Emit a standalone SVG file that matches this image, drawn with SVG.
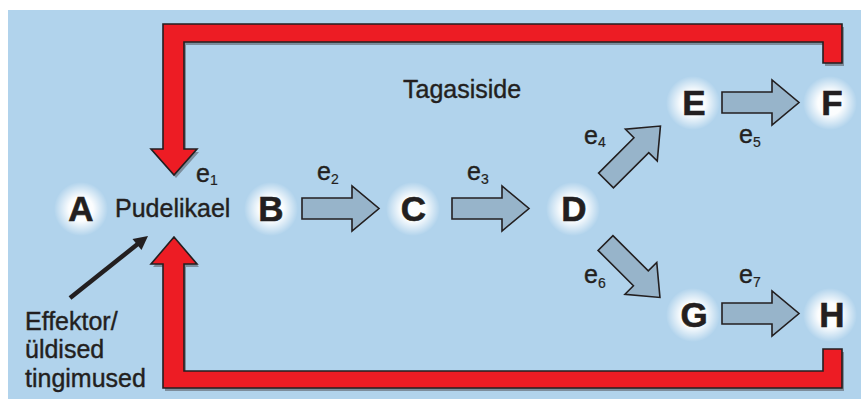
<svg xmlns="http://www.w3.org/2000/svg" width="861" height="399" viewBox="0 0 861 399">
  <defs>
    <radialGradient id="glow">
      <stop offset="0" stop-color="#ffffff" stop-opacity="1"/>
      <stop offset="0.45" stop-color="#ffffff" stop-opacity="0.95"/>
      <stop offset="1" stop-color="#ffffff" stop-opacity="0"/>
    </radialGradient>
    <!-- block arrow pointing right, tail at origin -->
    <path id="blk" d="M0,-10.5 H50 V-22.5 L77,0 L50,22.5 V10.5 H0 Z"/>
  </defs>
  <style>
    .bg { fill: #b1d3ec; }
    .lbl { font-family: "Liberation Sans", Arial, sans-serif; font-weight: bold; font-size: 35px; fill: #231f20; stroke: #231f20; stroke-width: 0.6; text-anchor: middle; }
    .txt { font-family: "Liberation Sans", Arial, sans-serif; font-size: 25px; fill: #231f20; stroke: #231f20; stroke-width: 0.4; }
    .e { font-family: "Liberation Sans", Arial, sans-serif; font-size: 25px; fill: #231f20; stroke: #231f20; stroke-width: 0.4; }
    .sub { font-size: 14px; stroke-width: 0.2; }
    .gray use { fill: #97b4ca; stroke: #231f20; stroke-width: 1.6; stroke-linejoin: miter; }
    .red { fill: #ed1c24; stroke: #231f20; stroke-width: 1.6; }
    .shadow { fill: #7d8d9c; }
  </style>

  <rect class="bg" x="8" y="10" width="853" height="389"/>

  <!-- connectors -->
  <g id="connectors">
    <!-- feedback loops -->
    <g id="feedback-top">
      <path class="shadow" transform="translate(2,3)" d="M842,24 V63 H823 V42 H184 V149 H197 L174,175 L151,149 H163 V24 Z"/>
      <path class="red" d="M842,24 V63 H823 V42 H184 V149 H197 L174,175 L151,149 H163 V24 Z"/>
    </g>
    <g id="feedback-bottom">
      <path class="shadow" transform="translate(2,3)" d="M174,237 L197,264 H184 V371 H823 V349 H842 V388 H163 V264 H151 Z"/>
      <path class="red" d="M174,237 L197,264 H184 V371 H823 V349 H842 V388 H163 V264 H151 Z"/>
    </g>
    <!-- effector arrow -->
    <g id="effector-arrow">
      <line x1="70" y1="298" x2="139" y2="243" stroke="#231f20" stroke-width="4.5"/>
      <polygon points="148,236 141.5,250 132.5,239" fill="#231f20"/>
    </g>
    <!-- reaction steps -->
    <g class="gray">
      <use href="#blk" transform="translate(302,208.5)"/>
      <use href="#blk" transform="translate(452,208.5)"/>
      <use href="#blk" transform="translate(606,180.5) rotate(-45)"/>
      <use href="#blk" transform="translate(605.5,243) rotate(45)"/>
      <use href="#blk" transform="translate(722,102.5)"/>
      <use href="#blk" transform="translate(722,313.5)"/>
    </g>
  </g>

  <!-- step labels -->
  <g id="edge-labels">
    <text class="e" x="196" y="182">e<tspan class="sub" dy="3">1</tspan></text>
    <text class="e" x="317" y="180">e<tspan class="sub" dy="4">2</tspan></text>
    <text class="e" x="467" y="180">e<tspan class="sub" dy="4">3</tspan></text>
    <text class="e" x="584" y="144">e<tspan class="sub" dy="3">4</tspan></text>
    <text class="e" x="739" y="143">e<tspan class="sub" dy="4">5</tspan></text>
    <text class="e" x="584" y="283">e<tspan class="sub" dy="5">6</tspan></text>
    <text class="e" x="739" y="283">e<tspan class="sub" dy="4">7</tspan></text>
  </g>

  <!-- nodes -->
  <g id="node-A">
    <circle cx="81" cy="209" r="27" fill="url(#glow)"/>
    <text class="lbl" x="81" y="221">A</text>
  </g>
  <g id="node-B">
    <circle cx="271" cy="209" r="27" fill="url(#glow)"/>
    <text class="lbl" x="271" y="221">B</text>
  </g>
  <g id="node-C">
    <circle cx="413" cy="209" r="27" fill="url(#glow)"/>
    <text class="lbl" x="413.5" y="221">C</text>
  </g>
  <g id="node-D">
    <circle cx="573" cy="209" r="27" fill="url(#glow)"/>
    <text class="lbl" x="574" y="221">D</text>
  </g>
  <g id="node-E">
    <circle cx="693" cy="103" r="27" fill="url(#glow)"/>
    <text class="lbl" x="694" y="115">E</text>
  </g>
  <g id="node-F">
    <circle cx="830" cy="103" r="27" fill="url(#glow)"/>
    <text class="lbl" x="832" y="115">F</text>
  </g>
  <g id="node-G">
    <circle cx="693" cy="315" r="27" fill="url(#glow)"/>
    <text class="lbl" x="694" y="327">G</text>
  </g>
  <g id="node-H">
    <circle cx="830" cy="315" r="27" fill="url(#glow)"/>
    <text class="lbl" x="832" y="327">H</text>
  </g>

  <!-- captions -->
  <g id="captions">
    <text class="txt" x="115" y="217">Pudelikael</text>
    <text class="txt" x="403" y="98" font-size="24">Tagasiside</text>
    <text class="txt" x="25" y="330">Effektor/</text>
    <text class="txt" x="25" y="358">üldised</text>
    <text class="txt" x="25" y="387">tingimused</text>
  </g>
</svg>
